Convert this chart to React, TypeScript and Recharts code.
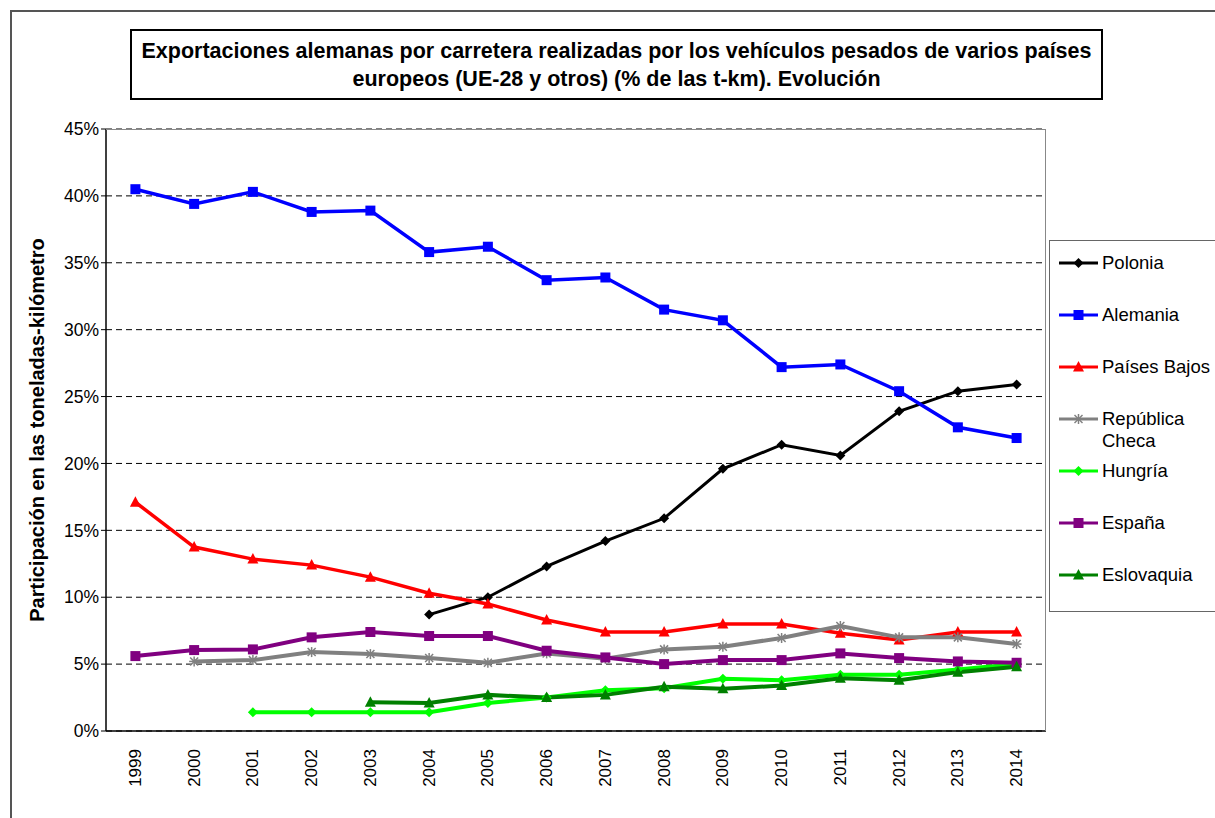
import React from 'react';
import { LineChart, Line, XAxis, YAxis, CartesianGrid } from 'recharts';

const years = ['1999', '2000', '2001', '2002', '2003', '2004', '2005', '2006', '2007', '2008', '2009', '2010', '2011', '2012', '2013', '2014'];

const polonia = [null, null, null, null, null, 8.7, 10.0, 12.3, 14.2, 15.9, 19.6, 21.4, 20.6, 23.9, 25.4, 25.9];
const alemania = [40.5, 39.4, 40.3, 38.8, 38.9, 35.8, 36.2, 33.7, 33.9, 31.5, 30.7, 27.2, 27.4, 25.4, 22.7, 21.9];
const paisesBajos = [17.1, 13.75, 12.85, 12.4, 11.5, 10.3, 9.5, 8.3, 7.4, 7.4, 8.0, 8.0, 7.3, 6.8, 7.4, 7.4];
const republicaCheca = [null, 5.2, 5.3, 5.9, 5.75, 5.45, 5.1, 5.8, 5.4, 6.1, 6.3, 6.95, 7.85, 7.0, 7.0, 6.5];
const hungria = [null, null, 1.4, 1.4, 1.4, 1.4, 2.1, 2.5, 3.05, 3.2, 3.9, 3.8, 4.2, 4.2, 4.6, 5.0];
const espana = [5.6, 6.05, 6.1, 7.0, 7.4, 7.1, 7.1, 6.0, 5.5, 5.0, 5.3, 5.3, 5.8, 5.45, 5.2, 5.1];
const eslovaquia = [null, null, null, null, 2.15, 2.1, 2.7, 2.5, 2.7, 3.3, 3.15, 3.4, 3.95, 3.8, 4.4, 4.8];

const yTicks = [0, 5, 10, 15, 20, 25, 30, 35, 40, 45];
const boundaryTicks = [-0.5, 0.5, 1.5, 2.5, 3.5, 4.5, 5.5, 6.5, 7.5, 8.5, 9.5, 10.5, 11.5, 12.5, 13.5, 14.5, 15.5];

const series = [
  { key: 'Polonia', label: 'Polonia', values: polonia, color: '#000000', width: 3, marker: 'diamond' },
  { key: 'Alemania', label: 'Alemania', values: alemania, color: '#0000FF', width: 3.5, marker: 'square' },
  { key: 'PaisesBajos', label: 'Países Bajos', values: paisesBajos, color: '#FF0000', width: 3.5, marker: 'triangle' },
  { key: 'RepublicaCheca', label: 'República\nCheca', values: republicaCheca, color: '#808080', width: 4, marker: 'star' },
  { key: 'Hungria', label: 'Hungría', values: hungria, color: '#00FF00', width: 4, marker: 'diamond' },
  { key: 'Espana', label: 'España', values: espana, color: '#800080', width: 4, marker: 'square' },
  { key: 'Eslovaquia', label: 'Eslovaquia', values: eslovaquia, color: '#008000', width: 4, marker: 'triangle' },
];

const data = years.map((year, i) => {
  const row: any = { year, idx: i };
  series.forEach((s) => {
    row[s.key] = s.values[i];
  });
  return row;
});

const FONT = '"Liberation Sans", Arial, sans-serif';

const markerShape = (type: string, cx: number, cy: number, color: string) => {
  if (type === 'diamond') {
    return <polygon points={`${cx},${cy - 5} ${cx + 5},${cy} ${cx},${cy + 5} ${cx - 5},${cy}`} fill={color} />;
  }
  if (type === 'square') {
    return <rect x={cx - 5} y={cy - 5} width={10} height={10} fill={color} />;
  }
  if (type === 'triangle') {
    return <polygon points={`${cx},${cy - 6} ${cx + 5.5},${cy + 4.5} ${cx - 5.5},${cy + 4.5}`} fill={color} />;
  }
  return (
    <g stroke={color} strokeWidth={1.5}>
      <line x1={cx - 5} y1={cy} x2={cx + 5} y2={cy} />
      <line x1={cx} y1={cy - 5} x2={cx} y2={cy + 5} />
      <line x1={cx - 4} y1={cy - 4} x2={cx + 4} y2={cy + 4} />
      <line x1={cx - 4} y1={cy + 4} x2={cx + 4} y2={cy - 4} />
    </g>
  );
};

const makeDot = (type: string, color: string) => (props: any) => {
  const { cx, cy, value, index } = props;
  if (value == null || cx == null || cy == null) return <g key={`e-${index}`} />;
  return <g key={`d-${index}`}>{markerShape(type, cx, cy, color)}</g>;
};

const YearTick = (props: any) => {
  const { x, y, payload } = props;
  const ty = y + 10;
  return (
    <text
      x={x}
      y={ty}
      transform={`rotate(-90 ${x} ${ty})`}
      textAnchor="end"
      dominantBaseline="central"
      fontSize={17}
      fontFamily={FONT}
      fill="#000"
    >
      {payload.value}
    </text>
  );
};

const LegendBox = () => (
  <div
    style={{
      position: 'absolute',
      left: 1049,
      top: 240,
      width: 200,
      height: 372,
      border: '1px solid #666',
      boxSizing: 'border-box',
      background: '#fff',
      fontFamily: FONT,
      fontSize: 18.5,
      color: '#000',
    }}
  >
    {series.map((s, i) => (
      <div key={s.key} style={{ position: 'absolute', left: 8, top: 11 + i * 52, display: 'flex', alignItems: 'flex-start' }}>
        <svg width={42} height={22}>
          <line x1={1} y1={11} x2={40} y2={11} stroke={s.color} strokeWidth={3} />
          {markerShape(s.marker, 20.5, 11, s.color)}
        </svg>
        <span style={{ whiteSpace: 'pre-line', lineHeight: '22px', marginLeft: 2 }}>{s.label}</span>
      </div>
    ))}
  </div>
);

const YLabel = () => (
  <text
    x={37}
    y={430}
    transform="rotate(-90 37 430)"
    textAnchor="middle"
    dominantBaseline="central"
    fontSize={20}
    fontWeight="bold"
    fontFamily={FONT}
    fill="#000"
  >
    Participación en las toneladas-kilómetro
  </text>
);

export default function App() {
  return (
    <div style={{ position: 'absolute', left: 0, top: 0, width: 1215, height: 818, overflow: 'hidden', background: '#fff' }}>
      <div
        style={{
          position: 'absolute',
          left: 10,
          top: 10,
          width: 1300,
          height: 900,
          border: '2px solid #555',
          boxSizing: 'border-box',
        }}
      />
      <LineChart
        width={1215}
        height={818}
        data={data}
        margin={{ top: 129, right: 169, left: 46, bottom: 0 }}
        style={{ position: 'absolute', left: 0, top: 0 }}
      >
        <CartesianGrid vertical={false} stroke="#000" strokeDasharray="6 4" />
        <XAxis
          dataKey="year"
          interval={0}
          tickLine={false}
          axisLine={{ stroke: '#000', strokeWidth: 1.5 }}
          tick={<YearTick />}
          padding={{ left: 29.4, right: 29.4 }}
          height={87}
        />
        <XAxis
          xAxisId="bounds"
          type="number"
          domain={[-0.5, 15.5]}
          allowDataOverflow
          ticks={boundaryTicks}
          interval={0}
          tick={false}
          tickLine={{ stroke: '#000', strokeWidth: 1.2 }}
          tickSize={6}
          axisLine={false}
          height={0}
        />
        <YAxis
          domain={[0, 45]}
          ticks={yTicks}
          interval={0}
          width={60}
          tickFormatter={(v: number) => `${v}%`}
          tick={{ fontSize: 17.5, fontFamily: FONT, fill: '#000' }}
          tickLine={{ stroke: '#000' }}
          tickSize={5}
          axisLine={{ stroke: '#000', strokeWidth: 1.5 }}
          label={{ content: () => <YLabel /> }}
        />
        {series.map((s) => (
          <Line
            key={s.key}
            type="linear"
            dataKey={s.key}
            stroke={s.color}
            strokeWidth={s.width}
            dot={makeDot(s.marker, s.color)}
            activeDot={false}
            connectNulls={false}
            isAnimationActive={false}
          />
        ))}
      </LineChart>
      <LegendBox />
      <div
        style={{
          position: 'absolute',
          left: 106,
          top: 129,
          width: 940,
          height: 602,
          borderTop: '1.5px solid #888',
          borderRight: '1.5px solid #888',
          boxSizing: 'border-box',
          pointerEvents: 'none',
        }}
      />
      <div
        style={{
          position: 'absolute',
          left: 130,
          top: 29,
          width: 973,
          height: 71,
          border: '2px solid #000',
          boxSizing: 'border-box',
          background: '#fff',
          display: 'flex',
          alignItems: 'center',
          justifyContent: 'center',
          textAlign: 'center',
          fontFamily: FONT,
          fontWeight: 'bold',
          fontSize: 21.5,
          lineHeight: '28px',
          color: '#000',
        }}
      >
        <div>
          Exportaciones alemanas por carretera realizadas por los vehículos pesados de varios países
          <br />
          europeos (UE-28 y otros) (% de las t-km). Evolución
        </div>
      </div>
    </div>
  );
}
